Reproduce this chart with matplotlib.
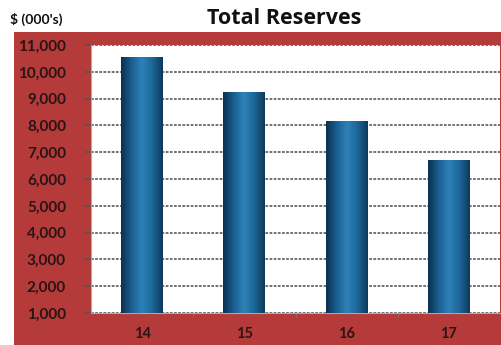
import matplotlib.pyplot as plt
import numpy as np
from matplotlib.patches import Rectangle
from matplotlib.colors import LinearSegmentedColormap

# data
years = ['14', '15', '16', '17']
reserves = [10550, 9250, 8150, 6700]
y_ticks = list(range(1000, 12000, 1000))

red = '#b53a3a'
label_col = '#2a1414'
fig = plt.figure(figsize=(5.01, 3.45), dpi=100)

# red frame behind the plot
fig.patches.append(Rectangle((14 / 501, 0), 1, 1 - 32 / 345, transform=fig.transFigure,
                             facecolor=red, edgecolor='none', zorder=-5))

ax = fig.add_axes([91 / 501, 1 - 313 / 345, 409 / 501, 268 / 345])
ax.set_zorder(1)
ax.set_facecolor('white')
x = np.arange(len(years))
bars = ax.bar(x, reserves, width=0.41, color='#1f6a9c', zorder=2)

# cylinder shading on each bar
cyl = LinearSegmentedColormap.from_list('cyl', ['#0b3150', '#1a5f90', '#2f82b8', '#1c6799', '#0e3a5c'])
grad = np.linspace(0, 1, 64).reshape(1, -1)
for b in bars:
    im = ax.imshow(grad, cmap=cyl, aspect='auto', zorder=3,
                   extent=(b.get_x(), b.get_x() + b.get_width(), 1000, b.get_height()))
    im.set_clip_path(b)

ax.set_xlim(-0.5, 3.5)
ax.set_ylim(1000, 11000)
ax.set_yticks(y_ticks)
ax.set_yticklabels([f'{v:,}' for v in y_ticks])
ax.set_xticks(x)
ax.set_xticklabels(years)
ax.set_xticks([0.5, 1.5, 2.5], minor=True)
ax.grid(axis='y', color='#666666', linestyle=(0, (1.5, 0.8)), linewidth=1.3, zorder=1)
ax.tick_params(axis='y', length=4, width=1.2, color='#555555', labelcolor=label_col,
               labelsize=11, pad=14)
ax.tick_params(axis='x', which='major', length=0, labelcolor=label_col, labelsize=10.5, pad=10)
ax.tick_params(axis='x', which='minor', length=3, color='#777777')
for lab in ax.get_yticklabels() + ax.get_xticklabels():
    lab.set_fontfamily('Lato')
    lab.set_fontweight('bold')
for s in ['top', 'right']:
    ax.spines[s].set_visible(False)
ax.spines['left'].set_color('#aaaaaa')
ax.spines['bottom'].set_color('#aaaaaa')

fig.text(284 / 501, 1 - 18 / 345, 'Total Reserves', ha='center', va='center',
         fontsize=15.5, fontweight='bold', family='Open Sans', color='#111111')
fig.text(10 / 501, 1 - 19 / 345, "$ (000's)", ha='left', va='center',
         fontsize=10, fontweight='bold', family='Lato', color='#111111')

fig.savefig('out.png', dpi=100)
